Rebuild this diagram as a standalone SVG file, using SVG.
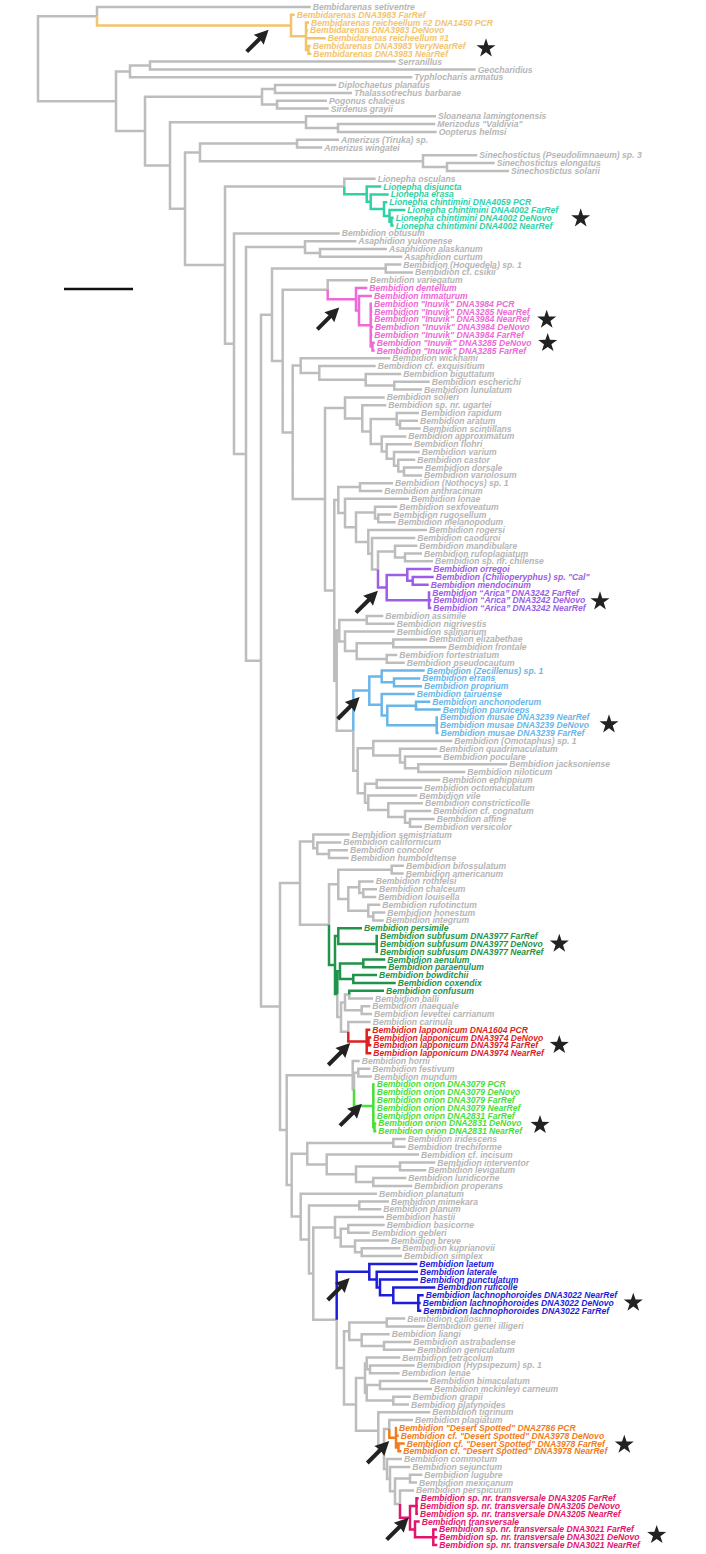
<svg xmlns="http://www.w3.org/2000/svg" xmlns:xlink="http://www.w3.org/1999/xlink" width="706" height="1554" viewBox="0 0 706 1554">
<style>
text{font-family:"Liberation Sans",Arial,sans-serif;font-size:8.6px;font-weight:bold;font-style:italic}
.g{fill:#b6b6b6}.yl{fill:#f3c46e}.tl{fill:#2fd1a5}.pk{fill:#ee6ad6}.pu{fill:#9d5de6}.lb{fill:#6bb6e8}.gn{fill:#1f944a}.rd{fill:#dd1f1f}.lm{fill:#4ade3a}.bl{fill:#1e1ed8}.or{fill:#f07d1e}.mg{fill:#e2166c}
path.br{fill:none;stroke-width:2.5;stroke-linejoin:miter}
.sg{stroke:#bdbdbd}.syl{stroke:#f3c46e}.stl{stroke:#2fd1a5}.spk{stroke:#ee6ad6}.spu{stroke:#9d5de6}.slb{stroke:#6bb6e8}.sgn{stroke:#1f944a}.srd{stroke:#dd1f1f}.slm{stroke:#4ade3a}.sbl{stroke:#1e1ed8}.sor{stroke:#f07d1e}.smg{stroke:#e2166c}
.mk{fill:#222}
</style>
<defs>
<path id="star" d="M0,-9 L2.29,-2.16 L9.51,-2.09 L3.71,2.21 L5.88,9.09 L0,4.9 L-5.88,9.09 L-3.71,2.21 L-9.51,-2.09 L-2.29,-2.16 Z"/>
<path id="arrow" d="M0,-2 L18,-2 L17,-7 L31,0 L17,7 L18,2 L0,2 Z"/>
</defs>
<rect width="706" height="1554" fill="#ffffff"/>
<g id="connectors">
<path class="br sg" d="M38,58.8V16.3H97 M38,58.8V101.3H116 M97,16.3V7H310.7 M116,101.3V71.4H130 M116,101.3V131.1H145 M130,71.4V65.6H150 M130,71.4V77.3H412.3 M150,65.6V61.6H395.7 M150,65.6V69.5H475.7 M145,131.1V96.8H262 M145,131.1V165.4H170 M262,96.8V89H275 M262,96.8V104.6H277 M275,89V85.1H336.3 M275,89V92.9H352 M277,104.6V100.7H327 M277,104.6V108.5H328.7 M170,165.4V122.2H306 M170,165.4V208.7H185 M306,122.2V116.3H436 M306,122.2V128H338 M338,128V124.1H435.3 M338,128V131.9H436.7 M185,208.7V152.4H200 M185,208.7V265.1H225 M200,152.4V143.6H297 M200,152.4V161.2H423 M297,143.6V139.7H339 M297,143.6V147.5H322.3 M423,161.2V155.3H477.3 M423,161.2V167H447 M447,167V163.1H494.7 M447,167V170.9H509 M225,265.1V186.5H344.3 M225,265.1V343.7H234 M344.3,186.5V178.8H375.7"/>
<path class="br sg" d="M234,343.7V233.4H339.7 M234,343.7V453.9H246 M246,453.9V247.1H305 M246,453.9V660.7H261 M305,247.1V241.2H356.3 M305,247.1V252.9H320 M320,252.9V249H387 M320,252.9V256.8H402.3 M261,660.7V314.8H272 M261,660.7V1006.6H280 M272,314.8V268.5H385.7 M272,314.8V361.1H282.7 M385.7,268.5V264.6H401.3 M385.7,268.5V272.4H413 M282.7,361.1V289.8H327.7 M282.7,361.1V432.4H292.7 M327.7,289.8V280.2H368 M292.7,432.4V365.6H300.7 M292.7,432.4V499.1H325 M300.7,365.6V358.3H390.3 M300.7,365.6V372.9H319.3 M319.3,372.9V366.1H375.7 M319.3,372.9V379.8H365.7 M365.7,379.8V373.9H401.3 M365.7,379.8V385.6H394.3 M394.3,385.6V381.7H429.7 M394.3,385.6V389.5H422 M325,499.1V407.9H345 M325,499.1V590.4H334.3 M345,407.9V397.4H384.7 M345,407.9V418.4H362.3 M362.3,418.4V405.2H386.3 M362.3,418.4V431.5H370.7 M370.7,431.5V418.9H396.7 M370.7,431.5V444H381.7 M396.7,418.9V413H419 M396.7,418.9V424.7H400 M400,424.7V420.8H418 M400,424.7V428.6H420.7 M381.7,444V436.4H406.3 M381.7,444V451.5H386.7 M386.7,451.5V444.2H412 M386.7,451.5V458.8H394 M394,458.8V452H419.7 M394,458.8V465.7H398.3 M398.3,465.7V459.8H415.3 M398.3,465.7V471.5H404 M404,471.5V467.6H423 M404,471.5V475.4H422"/>
<path class="br sg" d="M334.3,590.4V500.1H338.3 M334.3,590.4V680.7H336.7 M338.3,500.1V487.1H360 M338.3,500.1V513H345 M360,487.1V483.2H393 M360,487.1V491H382.3 M345,513V498.8H409 M345,513V527.2H356 M356,527.2V512.6H375 M356,527.2V541.9H368.3 M375,512.6V506.7H397.3 M375,512.6V518.4H378.3 M378.3,518.4V514.5H391.3 M378.3,518.4V522.3H395.7 M368.3,541.9V530.1H427 M368.3,541.9V553.8H372 M372,553.8V537.9H415.3 M372,553.8V569.6H378 M378,569.6V551.6H395 M395,551.6V545.7H417.3 M395,551.6V557.4H405 M405,557.4V553.5H422 M405,557.4V561.3H433 M336.7,680.7V630.6H339.3 M336.7,680.7V730.7H353.3 M339.3,630.6V619.9H366.7 M339.3,630.6V641.4H345 M366.7,619.9V616H383.3 M366.7,619.9V623.8H394.7 M345,641.4V631.6H394.7 M345,641.4V651.1H356.7 M356.7,651.1V643.3H393.3 M356.7,651.1V658.9H386.7 M393.3,643.3V639.4H427.3 M393.3,643.3V647.2H446.3 M386.7,658.9V655H397.3 M386.7,658.9V662.8H404.7 M353.3,730.7V770.8H357.7 M357.7,770.8V748.2H373.3 M357.7,770.8V793.3H365 M373.3,748.2V740.9H452.3 M373.3,748.2V755.5H400 M400,755.5V748.7H437.3 M400,755.5V762.4H405 M405,762.4V756.5H441.3 M405,762.4V768.2H418.3 M418.3,768.2V764.3H507.3 M418.3,768.2V772.1H465.3 M365,793.3V783.8H376.7 M365,793.3V802.8H368.3 M376.7,783.8V779.9H440.3 M376.7,783.8V787.7H422.3 M368.3,802.8V795.5H417.3 M368.3,802.8V810.1H388.3 M388.3,810.1V803.3H423 M388.3,810.1V817H405 M405,817V811.1H431.3 M405,817V822.8H410 M410,822.8V818.9H434.7 M410,822.8V826.7H422"/>
<path class="br sg" d="M280,1006.6V883H300 M280,1006.6V1130.1H286.7 M300,883V841.4H313.3 M300,883V924.7H329 M313.3,841.4V834.6H349.7 M313.3,841.4V848.3H317.3 M317.3,848.3V842.4H341.3 M317.3,848.3V854.1H329 M329,854.1V850.2H348 M329,854.1V858H348.7 M329,924.7V884.3H338.3 M338.3,884.3V869.7H391.7 M338.3,884.3V899H348.3 M391.7,869.7V865.8H404 M391.7,869.7V873.6H403.7 M348.3,899V887.3H359.3 M348.3,899V910.7H368.3 M359.3,887.3V881.4H373.7 M359.3,887.3V893.1H363.3 M363.3,893.1V889.2H377 M363.3,893.1V897H376.3 M368.3,910.7V904.8H380.3 M368.3,910.7V916.5H373.3 M373.3,916.5V912.6H385.3 M373.3,916.5V920.4H383.7 M337.3,994.1V1017H341 M341,1017V1002.4H345 M341,1017V1031.7H348.3 M345,1002.4V994.6H349.3 M345,1002.4V1010.2H361.7 M349.3,994.6V998.5H373 M361.7,1010.2V1006.3H370.3 M361.7,1010.2V1014.1H372 M348.3,1031.7V1021.9H370.7"/>
<path class="br sg" d="M286.7,1130.1V1075.2H352.7 M286.7,1130.1V1185.1H291.7 M352.7,1075.2V1061H359.7 M352.7,1075.2V1089.3H354 M354,1089.3V1072.7H358.3 M358.3,1072.7V1068.8H370.3 M358.3,1072.7V1076.6H372 M291.7,1185.1V1153.7H307.3 M291.7,1185.1V1216.6H300.7 M307.3,1153.7V1142.9H393.3 M307.3,1153.7V1164.4H326.7 M393.3,1142.9V1139H405.7 M393.3,1142.9V1146.8H405.7 M326.7,1164.4V1154.6H419 M326.7,1164.4V1174.2H356 M356,1174.2V1166.4H400 M356,1174.2V1182H373.3 M400,1166.4V1162.5H435.3 M400,1166.4V1170.3H426.3 M373.3,1182V1178.1H406.3 M373.3,1182V1185.9H412.3 M300.7,1216.6V1193.7H377 M300.7,1216.6V1239.5H309 M309,1239.5V1205.4H359.3 M309,1239.5V1273.6H313.3 M359.3,1205.4V1201.5H389 M359.3,1205.4V1209.3H381.3 M313.3,1273.6V1227.4H335 M313.3,1273.6V1319.8H336.7 M335,1227.4V1217.1H384 M335,1227.4V1237.6H340.7 M340.7,1237.6V1228.8H348.3 M340.7,1237.6V1246.4H355 M348.3,1228.8V1224.9H384.7 M348.3,1228.8V1232.7H369.7 M355,1246.4V1240.5H389 M355,1246.4V1252.2H361.7 M361.7,1252.2V1248.3H400.3 M361.7,1252.2V1256.1H402 M336.7,1319.8V1367.9H344"/>
<path class="br sg" d="M344,1367.9V1331.3H349.3 M344,1367.9V1404.4H356 M349.3,1331.3V1322.5H386.7 M349.3,1331.3V1340.1H361.7 M386.7,1322.5V1318.6H405.3 M386.7,1322.5V1326.4H424.7 M361.7,1340.1V1334.2H389.7 M361.7,1340.1V1345.9H384 M384,1345.9V1342H411.3 M384,1345.9V1349.8H415.3 M356,1404.4V1378.1H365 M356,1404.4V1430.7H378.3 M365,1378.1V1363.5H366.7 M365,1378.1V1392.8H366.7 M366.7,1363.5V1357.6H400.3 M366.7,1363.5V1369.3H370 M370,1369.3V1365.4H414.7 M370,1369.3V1373.2H399.7 M366.7,1392.8V1385H380 M366.7,1392.8V1400.6H393.3 M380,1385V1381.1H428 M380,1385V1388.9H432 M393.3,1400.6V1396.7H410.7 M393.3,1400.6V1404.5H409 M378.3,1430.7V1412.3H430.3 M378.3,1430.7V1449H384 M384,1449V1428.9H389.3 M384,1449V1469.1H387 M389.3,1428.9V1420.1H413 M387,1469.1V1459.1H402 M387,1469.1V1479.1H390 M390,1479.1V1466.9H410.3 M390,1479.1V1491.3H395 M395,1491.3V1478.6H410 M395,1491.3V1504.1H400 M410,1478.6V1474.7H422.3 M410,1478.6V1482.5H417 M400,1504.1V1490.4H414"/>
<path class="br syl" d="M97,16.3V25.5H291 M291,25.5V14.8H294.7 M291,25.5V36.3H306 M306,36.3V22.6H309 M306,36.3V30.4H308 M306,36.3V38.2H325.7 M306,36.3V49.9H308.5 M308.5,49.9V46H310.7 M308.5,49.9V53.8H311.3"/>
<path class="br stl" d="M344.3,186.5V194.2H366.7 M366.7,194.2V186.6H381.3 M366.7,194.2V201.7H370.7 M370.7,201.7V194.4H388.7 M370.7,201.7V209H384 M384,209V202.2H387.3 M384,209V215.9H389.5 M389.5,215.9V210H405.3 M389.5,215.9V221.7H391.5 M391.5,221.7V217.8H393.7 M391.5,221.7V225.6H393.7"/>
<path class="br spk" d="M327.7,289.8V299.3H356 M356,299.3V288.1H367.3 M356,299.3V310.5H359 M359,310.5V295.9H372 M359,310.5V325.2H370.7 M370.7,325.2V303.7H372 M370.7,325.2V311.5H372.3 M370.7,325.2V319.3H372.3 M370.7,325.2V327.1H373 M370.7,325.2V334.9H372.3 M370.7,325.2V346.6H372.5 M372.5,346.6V342.7H374.7 M372.5,346.6V350.5H374.7"/>
<path class="br spu" d="M378,569.6V587.6H386.7 M386.7,587.6V575H407.3 M386.7,587.6V600.3H429 M407.3,575V569.1H431.3 M407.3,575V580.8H412.7 M412.7,580.8V576.9H433.7 M412.7,580.8V584.7H428.7 M429,600.3V592.5H430.3 M429,600.3H431.3 M429,600.3V608.1H431.3"/>
<path class="br slb" d="M353.3,730.7V690.6H369.3 M369.3,690.6V676.5H381.7 M369.3,690.6V704.8H381.7 M381.7,676.5V670.6H424.7 M381.7,676.5V682.3H394 M394,682.3V678.4H420.3 M394,682.3V686.2H422 M381.7,704.8V694H414.7 M381.7,704.8V715.5H387.3 M387.3,715.5V705.7H416 M387.3,715.5V725.3H436.7 M416,705.7V701.8H430.3 M416,705.7V709.6H440.7 M436.7,725.3V717.4H438 M436.7,725.3H438 M436.7,725.3V733.1H438.7"/>
<path class="br sgn" d="M329,924.7V965H335 M335,965V936H338.3 M335,965V994.1H337.3 M338.3,936V928.2H362 M338.3,936V943.9H376.7 M376.7,943.9V936H378 M376.7,943.9H378 M376.7,943.9V951.7H378 M337.3,994.1V971.2H340 M340,971.2V963.4H363.3 M340,971.2V979H353.3 M363.3,963.4V959.5H385.3 M363.3,963.4V967.3H386.3 M353.3,979V975.1H377 M353.3,979V982.9H395.7 M349.3,994.6V990.7H384"/>
<path class="br srd" d="M348.3,1031.7V1041.5H366.7 M366.7,1041.5V1029.7H370.3 M366.7,1041.5H368.5 M366.7,1041.5V1053.2H371.3 M368.5,1041.4V1037.5H371.3 M368.5,1041.4V1045.3H371.3"/>
<path class="br slm" d="M354,1089.3V1105.9H373.3 M373.3,1105.9V1084.4H374.7 M373.3,1105.9V1092.2H374.7 M373.3,1105.9V1100H374.7 M373.3,1105.9V1107.8H374.7 M373.3,1105.9V1115.6H374.7 M373.3,1105.9V1127.3H374.5 M374.5,1127.3V1123.4H376.3 M374.5,1127.3V1131.2H376.3"/>
<path class="br sbl" d="M336.7,1319.8V1271.8H369.3 M369.3,1271.8V1263.9H417.3 M369.3,1271.8V1279.6H376.7 M376.7,1279.6V1271.8H418 M376.7,1279.6V1287.4H380 M380,1287.4V1279.6H418 M380,1287.4V1295.2H393.3 M393.3,1295.2V1287.4H435.3 M393.3,1295.2V1303H418.3 M418.3,1303V1295.2H423.7 M418.3,1303H420.7 M418.3,1303V1310.8H421.3"/>
<path class="br sor" d="M389.3,1428.9V1437.7H396 M396,1437.7V1427.9H397 M396,1437.7V1435.7H398.7 M396,1437.7V1447.4H398.5 M398.5,1447.4V1443.5H404.7 M398.5,1447.4V1451.3H401.3"/>
<path class="br smg" d="M400,1504.1V1517.7H410 M410,1517.7V1506H416.5 M410,1517.7V1529.4H415 M416.5,1506V1498.2H418.7 M416.5,1506H418 M416.5,1506V1513.8H418 M415,1529.4V1521.6H419.7 M415,1529.4V1537.2H433.3 M433.3,1537.2V1529.4H437 M433.3,1537.2H437.3 M433.3,1537.2V1545H437.3"/>
</g>
<g id="scalebar"><path d="M64,289H133" stroke="#111" stroke-width="2.5"/></g>
<g id="n1"><text class="g" x="312.7" y="10">Bembidarenas setiventre</text></g>
<g id="n2"><text class="yl" x="296.7" y="17.8">Bembidarenas DNA3983 FarRef</text></g>
<g id="n3"><text class="yl" x="311" y="25.6">Bembidarenas reicheellum #2 DNA1450 PCR</text></g>
<g id="n4"><text class="yl" x="310" y="33.4">Bembidarenas DNA3983 DeNovo</text></g>
<g id="n5"><text class="yl" x="327.7" y="41.2">Bembidarenas reicheellum #1</text></g>
<g id="n6"><text class="yl" x="312.7" y="49">Bembidarenas DNA3983 VeryNearRef</text></g>
<g id="n7"><text class="yl" x="313.3" y="56.8">Bembidarenas DNA3983 NearRef</text></g>
<g id="n8"><text class="g" x="397.7" y="64.6">Serranillus</text></g>
<g id="n9"><text class="g" x="477.7" y="72.5">Geocharidius</text></g>
<g id="n10"><text class="g" x="414.3" y="80.3">Typhlocharis armatus</text></g>
<g id="n11"><text class="g" x="338.3" y="88.1">Diplochaetus planatus</text></g>
<g id="n12"><text class="g" x="354" y="95.9">Thalassotrechus barbarae</text></g>
<g id="n13"><text class="g" x="329" y="103.7">Pogonus chalceus</text></g>
<g id="n14"><text class="g" x="330.7" y="111.5">Sirdenus grayii</text></g>
<g id="n15"><text class="g" x="438" y="119.3">Sloaneana lamingtonensis</text></g>
<g id="n16"><text class="g" x="437.3" y="127.1">Merizodus "Valdivia"</text></g>
<g id="n17"><text class="g" x="438.7" y="134.9">Oopterus helmsi</text></g>
<g id="n18"><text class="g" x="341" y="142.7">Amerizus (Tiruka) sp.</text></g>
<g id="n19"><text class="g" x="324.3" y="150.5">Amerizus wingatei</text></g>
<g id="n20"><text class="g" x="479.3" y="158.3">Sinechostictus (Pseudolimnaeum) sp. 3</text></g>
<g id="n21"><text class="g" x="496.7" y="166.1">Sinechostictus elongatus</text></g>
<g id="n22"><text class="g" x="511" y="173.9">Sinechostictus solarii</text></g>
<g id="n23"><text class="g" x="377.7" y="181.8">Lionepha osculans</text></g>
<g id="n24"><text class="tl" x="383.3" y="189.6">Lionepha disjuncta</text></g>
<g id="n25"><text class="tl" x="390.7" y="197.4">Lionepha erasa</text></g>
<g id="n26"><text class="tl" x="389.3" y="205.2">Lionepha chintimini DNA4059 PCR</text></g>
<g id="n27"><text class="tl" x="407.3" y="213">Lionepha chintimini DNA4002 FarRef</text></g>
<g id="n28"><text class="tl" x="395.7" y="220.8">Lionepha chintimini DNA4002 DeNovo</text></g>
<g id="n29"><text class="tl" x="395.7" y="228.6">Lionepha chintimini DNA4002 NearRef</text></g>
<g id="n30"><text class="g" x="341.7" y="236.4">Bembidion obtusum</text></g>
<g id="n31"><text class="g" x="358.3" y="244.2">Asaphidion yukonense</text></g>
<g id="n32"><text class="g" x="389" y="252">Asaphidion alaskanum</text></g>
<g id="n33"><text class="g" x="404.3" y="259.8">Asaphidion curtum</text></g>
<g id="n34"><text class="g" x="403.3" y="267.6">Bembidion (Hoquedela) sp. 1</text></g>
<g id="n35"><text class="g" x="415" y="275.4">Bembidion cf. csikii</text></g>
<g id="n36"><text class="g" x="370" y="283.2">Bembidion variegatum</text></g>
<g id="n37"><text class="pk" x="369.3" y="291.1">Bembidion dentellum</text></g>
<g id="n38"><text class="pk" x="374" y="298.9">Bembidion immaturum</text></g>
<g id="n39"><text class="pk" x="374" y="306.7">Bembidion "Inuvik" DNA3984 PCR</text></g>
<g id="n40"><text class="pk" x="374.3" y="314.5">Bembidion "Inuvik" DNA3285 NearRef</text></g>
<g id="n41"><text class="pk" x="374.3" y="322.3">Bembidion "Inuvik" DNA3984 NearRef</text></g>
<g id="n42"><text class="pk" x="375" y="330.1">Bembidion "Inuvik" DNA3984 DeNovo</text></g>
<g id="n43"><text class="pk" x="374.3" y="337.9">Bembidion "Inuvik" DNA3984 FarRef</text></g>
<g id="n44"><text class="pk" x="376.7" y="345.7">Bembidion "Inuvik" DNA3285 DeNovo</text></g>
<g id="n45"><text class="pk" x="376.7" y="353.5">Bembidion "Inuvik" DNA3285 FarRef</text></g>
<g id="n46"><text class="g" x="392.3" y="361.3">Bembidion wickhami</text></g>
<g id="n47"><text class="g" x="377.7" y="369.1">Bembidion cf. exquisitium</text></g>
<g id="n48"><text class="g" x="403.3" y="376.9">Bembidion biguttatum</text></g>
<g id="n49"><text class="g" x="431.7" y="384.7">Bembidion escherichi</text></g>
<g id="n50"><text class="g" x="424" y="392.5">Bembidion lunulatum</text></g>
<g id="n51"><text class="g" x="386.7" y="400.4">Bembidion solieri</text></g>
<g id="n52"><text class="g" x="388.3" y="408.2">Bembidion sp. nr. ugartei</text></g>
<g id="n53"><text class="g" x="421" y="416">Bembidion rapidum</text></g>
<g id="n54"><text class="g" x="420" y="423.8">Bembidion aratum</text></g>
<g id="n55"><text class="g" x="422.7" y="431.6">Bembidion scintillans</text></g>
<g id="n56"><text class="g" x="408.3" y="439.4">Bembidion approximatum</text></g>
<g id="n57"><text class="g" x="414" y="447.2">Bembidion flohri</text></g>
<g id="n58"><text class="g" x="421.7" y="455">Bembidion varium</text></g>
<g id="n59"><text class="g" x="417.3" y="462.8">Bembidion castor</text></g>
<g id="n60"><text class="g" x="425" y="470.6">Bembidion dorsale</text></g>
<g id="n61"><text class="g" x="424" y="478.4">Bembidion variolosum</text></g>
<g id="n62"><text class="g" x="395" y="486.2">Bembidion (Nothocys) sp. 1</text></g>
<g id="n63"><text class="g" x="384.3" y="494">Bembidion anthracinum</text></g>
<g id="n64"><text class="g" x="411" y="501.8">Bembidion lonae</text></g>
<g id="n65"><text class="g" x="399.3" y="509.7">Bembidion sexfoveatum</text></g>
<g id="n66"><text class="g" x="393.3" y="517.5">Bembidion rugosellum</text></g>
<g id="n67"><text class="g" x="397.7" y="525.3">Bembidion melanopodum</text></g>
<g id="n68"><text class="g" x="429" y="533.1">Bembidion rogersi</text></g>
<g id="n69"><text class="g" x="417.3" y="540.9">Bembidion caoduroi</text></g>
<g id="n70"><text class="g" x="419.3" y="548.7">Bembidion mandibulare</text></g>
<g id="n71"><text class="g" x="424" y="556.5">Bembidion rufoplagiatum</text></g>
<g id="n72"><text class="g" x="435" y="564.3">Bembidion sp. nr. chilense</text></g>
<g id="n73"><text class="pu" x="433.3" y="572.1">Bembidion orregoi</text></g>
<g id="n74"><text class="pu" x="435.7" y="579.9">Bembidion (Chilioperyphus) sp. "Cal"</text></g>
<g id="n75"><text class="pu" x="430.7" y="587.7">Bembidion mendocinum</text></g>
<g id="n76"><text class="pu" x="432.3" y="595.5">Bembidion “Arica” DNA3242 FarRef</text></g>
<g id="n77"><text class="pu" x="433.3" y="603.3">Bembidion “Arica” DNA3242 DeNovo</text></g>
<g id="n78"><text class="pu" x="433.3" y="611.1">Bembidion “Arica” DNA3242 NearRef</text></g>
<g id="n79"><text class="g" x="385.3" y="619">Bembidion assimile</text></g>
<g id="n80"><text class="g" x="396.7" y="626.8">Bembidion nigrivestis</text></g>
<g id="n81"><text class="g" x="396.7" y="634.6">Bembidion salinarium</text></g>
<g id="n82"><text class="g" x="429.3" y="642.4">Bembidion elizabethae</text></g>
<g id="n83"><text class="g" x="448.3" y="650.2">Bembidion frontale</text></g>
<g id="n84"><text class="g" x="399.3" y="658">Bembidion fortestriatum</text></g>
<g id="n85"><text class="g" x="406.7" y="665.8">Bembidion pseudocautum</text></g>
<g id="n86"><text class="lb" x="426.7" y="673.6">Bembidion (Zecillenus) sp. 1</text></g>
<g id="n87"><text class="lb" x="422.3" y="681.4">Bembidion errans</text></g>
<g id="n88"><text class="lb" x="424" y="689.2">Bembidion proprium</text></g>
<g id="n89"><text class="lb" x="416.7" y="697">Bembidion tairuense</text></g>
<g id="n90"><text class="lb" x="432.3" y="704.8">Bembidion anchonoderum</text></g>
<g id="n91"><text class="lb" x="442.7" y="712.6">Bembidion parviceps</text></g>
<g id="n92"><text class="lb" x="440" y="720.4">Bembidion musae DNA3239 NearRef</text></g>
<g id="n93"><text class="lb" x="440" y="728.3">Bembidion musae DNA3239 DeNovo</text></g>
<g id="n94"><text class="lb" x="440.7" y="736.1">Bembidion musae DNA3239 FarRef</text></g>
<g id="n95"><text class="g" x="454.3" y="743.9">Bembidion (Omotaphus) sp. 1</text></g>
<g id="n96"><text class="g" x="439.3" y="751.7">Bembidion quadrimaculatum</text></g>
<g id="n97"><text class="g" x="443.3" y="759.5">Bembidion poculare</text></g>
<g id="n98"><text class="g" x="509.3" y="767.3">Bembidion jacksoniense</text></g>
<g id="n99"><text class="g" x="467.3" y="775.1">Bembidion niloticum</text></g>
<g id="n100"><text class="g" x="442.3" y="782.9">Bembidion ephippium</text></g>
<g id="n101"><text class="g" x="424.3" y="790.7">Bembidion octomaculatum</text></g>
<g id="n102"><text class="g" x="419.3" y="798.5">Bembidion vile</text></g>
<g id="n103"><text class="g" x="425" y="806.3">Bembidion constricticolle</text></g>
<g id="n104"><text class="g" x="433.3" y="814.1">Bembidion cf. cognatum</text></g>
<g id="n105"><text class="g" x="436.7" y="821.9">Bembidion affine</text></g>
<g id="n106"><text class="g" x="424" y="829.7">Bembidion versicolor</text></g>
<g id="n107"><text class="g" x="351.7" y="837.6">Bembidion semistriatum</text></g>
<g id="n108"><text class="g" x="343.3" y="845.4">Bembidion californicum</text></g>
<g id="n109"><text class="g" x="350" y="853.2">Bembidion concolor</text></g>
<g id="n110"><text class="g" x="350.7" y="861">Bembidion humboldtense</text></g>
<g id="n111"><text class="g" x="406" y="868.8">Bembidion bifossulatum</text></g>
<g id="n112"><text class="g" x="405.7" y="876.6">Bembidion americanum</text></g>
<g id="n113"><text class="g" x="375.7" y="884.4">Bembidion rothfelsi</text></g>
<g id="n114"><text class="g" x="379" y="892.2">Bembidion chalceum</text></g>
<g id="n115"><text class="g" x="378.3" y="900">Bembidion louisella</text></g>
<g id="n116"><text class="g" x="382.3" y="907.8">Bembidion rufotinctum</text></g>
<g id="n117"><text class="g" x="387.3" y="915.6">Bembidion honestum</text></g>
<g id="n118"><text class="g" x="385.7" y="923.4">Bembidion integrum</text></g>
<g id="n119"><text class="gn" x="364" y="931.2">Bembidion persimile</text></g>
<g id="n120"><text class="gn" x="380" y="939">Bembidion subfusum DNA3977 FarRef</text></g>
<g id="n121"><text class="gn" x="380" y="946.9">Bembidion subfusum DNA3977 DeNovo</text></g>
<g id="n122"><text class="gn" x="380" y="954.7">Bembidion subfusum DNA3977 NearRef</text></g>
<g id="n123"><text class="gn" x="387.3" y="962.5">Bembidion aenulum</text></g>
<g id="n124"><text class="gn" x="388.3" y="970.3">Bembidion paraenulum</text></g>
<g id="n125"><text class="gn" x="379" y="978.1">Bembidion bowditchii</text></g>
<g id="n126"><text class="gn" x="397.7" y="985.9">Bembidion coxendix</text></g>
<g id="n127"><text class="gn" x="386" y="993.7">Bembidion confusum</text></g>
<g id="n128"><text class="g" x="375" y="1001.5">Bembidion balli</text></g>
<g id="n129"><text class="g" x="372.3" y="1009.3">Bembidion inaequale</text></g>
<g id="n130"><text class="g" x="374" y="1017.1">Bembidion levettei carrianum</text></g>
<g id="n131"><text class="g" x="372.7" y="1024.9">Bembidion carinula</text></g>
<g id="n132"><text class="rd" x="372.3" y="1032.7">Bembidion lapponicum DNA1604 PCR</text></g>
<g id="n133"><text class="rd" x="373.3" y="1040.5">Bembidion lapponicum DNA3974 DeNovo</text></g>
<g id="n134"><text class="rd" x="373.3" y="1048.3">Bembidion lapponicum DNA3974 FarRef</text></g>
<g id="n135"><text class="rd" x="373.3" y="1056.2">Bembidion lapponicum DNA3974 NearRef</text></g>
<g id="n136"><text class="g" x="361.7" y="1064">Bembidion horni</text></g>
<g id="n137"><text class="g" x="372.3" y="1071.8">Bembidion festivum</text></g>
<g id="n138"><text class="g" x="374" y="1079.6">Bembidion mundum</text></g>
<g id="n139"><text class="lm" x="376.7" y="1087.4">Bembidion orion DNA3079 PCR</text></g>
<g id="n140"><text class="lm" x="376.7" y="1095.2">Bembidion orion DNA3079 DeNovo</text></g>
<g id="n141"><text class="lm" x="376.7" y="1103">Bembidion orion DNA3079 FarRef</text></g>
<g id="n142"><text class="lm" x="376.7" y="1110.8">Bembidion orion DNA3079 NearRef</text></g>
<g id="n143"><text class="lm" x="376.7" y="1118.6">Bembidion orion DNA2831 FarRef</text></g>
<g id="n144"><text class="lm" x="378.3" y="1126.4">Bembidion orion DNA2831 DeNovo</text></g>
<g id="n145"><text class="lm" x="378.3" y="1134.2">Bembidion orion DNA2831 NearRef</text></g>
<g id="n146"><text class="g" x="407.7" y="1142">Bembidion iridescens</text></g>
<g id="n147"><text class="g" x="407.7" y="1149.8">Bembidion trechiforme</text></g>
<g id="n148"><text class="g" x="421" y="1157.6">Bembidion cf. incisum</text></g>
<g id="n149"><text class="g" x="437.3" y="1165.5">Bembidion interventor</text></g>
<g id="n150"><text class="g" x="428.3" y="1173.3">Bembidion levigatum</text></g>
<g id="n151"><text class="g" x="408.3" y="1181.1">Bembidion luridicorne</text></g>
<g id="n152"><text class="g" x="414.3" y="1188.9">Bembidion properans</text></g>
<g id="n153"><text class="g" x="379" y="1196.7">Bembidion planatum</text></g>
<g id="n154"><text class="g" x="391" y="1204.5">Bembidion mimekara</text></g>
<g id="n155"><text class="g" x="383.3" y="1212.3">Bembidion planum</text></g>
<g id="n156"><text class="g" x="386" y="1220.1">Bembidion hastii</text></g>
<g id="n157"><text class="g" x="386.7" y="1227.9">Bembidion basicorne</text></g>
<g id="n158"><text class="g" x="371.7" y="1235.7">Bembidion gebleri</text></g>
<g id="n159"><text class="g" x="391" y="1243.5">Bembidion breve</text></g>
<g id="n160"><text class="g" x="402.3" y="1251.3">Bembidion kuprianovii</text></g>
<g id="n161"><text class="g" x="404" y="1259.1">Bembidion simplex</text></g>
<g id="n162"><text class="bl" x="419.3" y="1266.9">Bembidion laetum</text></g>
<g id="n163"><text class="bl" x="420" y="1274.8">Bembidion laterale</text></g>
<g id="n164"><text class="bl" x="420" y="1282.6">Bembidion punctulatum</text></g>
<g id="n165"><text class="bl" x="437.3" y="1290.4">Bembidion ruficolle</text></g>
<g id="n166"><text class="bl" x="425.7" y="1298.2">Bembidion lachnophoroides DNA3022 NearRef</text></g>
<g id="n167"><text class="bl" x="422.7" y="1306">Bembidion lachnophoroides DNA3022 DeNovo</text></g>
<g id="n168"><text class="bl" x="423.3" y="1313.8">Bembidion lachnophoroides DNA3022 FarRef</text></g>
<g id="n169"><text class="g" x="407.3" y="1321.6">Bembidion callosum</text></g>
<g id="n170"><text class="g" x="426.7" y="1329.4">Bembidion genei illigeri</text></g>
<g id="n171"><text class="g" x="391.7" y="1337.2">Bembidion liangi</text></g>
<g id="n172"><text class="g" x="413.3" y="1345">Bembidion astrabadense</text></g>
<g id="n173"><text class="g" x="417.3" y="1352.8">Bembidion geniculatum</text></g>
<g id="n174"><text class="g" x="402.3" y="1360.6">Bembidion tetracolum</text></g>
<g id="n175"><text class="g" x="416.7" y="1368.4">Bembidion (Hypsipezum) sp. 1</text></g>
<g id="n176"><text class="g" x="401.7" y="1376.2">Bembidion lenae</text></g>
<g id="n177"><text class="g" x="430" y="1384.1">Bembidion bimaculatum</text></g>
<g id="n178"><text class="g" x="434" y="1391.9">Bembidion mckinleyi carneum</text></g>
<g id="n179"><text class="g" x="412.7" y="1399.7">Bembidion grapii</text></g>
<g id="n180"><text class="g" x="411" y="1407.5">Bembidion platynoides</text></g>
<g id="n181"><text class="g" x="432.3" y="1415.3">Bembidion tigrinum</text></g>
<g id="n182"><text class="g" x="415" y="1423.1">Bembidion plagiatum</text></g>
<g id="n183"><text class="or" x="399" y="1430.9">Bembidion "Desert Spotted" DNA2786 PCR</text></g>
<g id="n184"><text class="or" x="400.7" y="1438.7">Bembidion cf. "Desert Spotted" DNA3978 DeNovo</text></g>
<g id="n185"><text class="or" x="406.7" y="1446.5">Bembidion cf. "Desert Spotted" DNA3978 FarRef</text></g>
<g id="n186"><text class="or" x="403.3" y="1454.3">Bembidion cf. "Desert Spotted" DNA3978 NearRef</text></g>
<g id="n187"><text class="g" x="404" y="1462.1">Bembidion commotum</text></g>
<g id="n188"><text class="g" x="412.3" y="1469.9">Bembidion sejunctum</text></g>
<g id="n189"><text class="g" x="424.3" y="1477.7">Bembidion lugubre</text></g>
<g id="n190"><text class="g" x="419" y="1485.5">Bembidion mexicanum</text></g>
<g id="n191"><text class="g" x="416" y="1493.4">Bembidion perspicuum</text></g>
<g id="n192"><text class="mg" x="420.7" y="1501.2">Bembidion sp. nr. transversale DNA3205 FarRef</text></g>
<g id="n193"><text class="mg" x="420" y="1509">Bembidion sp. nr. transversale DNA3205 DeNovo</text></g>
<g id="n194"><text class="mg" x="420" y="1516.8">Bembidion sp. nr. transversale DNA3205 NearRef</text></g>
<g id="n195"><text class="mg" x="421.7" y="1524.6">Bembidion transversale</text></g>
<g id="n196"><text class="mg" x="439" y="1532.4">Bembidion sp. nr. transversale DNA3021 FarRef</text></g>
<g id="n197"><text class="mg" x="439.3" y="1540.2">Bembidion sp. nr. transversale DNA3021 DeNovo</text></g>
<g id="n198"><text class="mg" x="439.3" y="1548">Bembidion sp. nr. transversale DNA3021 NearRef</text></g>
<g id="stars" class="mk">
<use href="#star" x="486" y="47.3"/>
<use href="#star" x="580.7" y="217.3"/>
<use href="#star" x="546.7" y="318.7"/>
<use href="#star" x="547.7" y="342"/>
<use href="#star" x="600" y="600.3"/>
<use href="#star" x="609" y="723.3"/>
<use href="#star" x="559.3" y="942.7"/>
<use href="#star" x="559.3" y="1044"/>
<use href="#star" x="540" y="1124"/>
<use href="#star" x="633.3" y="1301.7"/>
<use href="#star" x="624.3" y="1443.7"/>
<use href="#star" x="656.7" y="1534"/>
</g>
<g id="arrows" class="mk">
<use href="#arrow" transform="translate(246.7,51.7) rotate(-45)"/>
<use href="#arrow" transform="translate(317.3,329.3) rotate(-45)"/>
<use href="#arrow" transform="translate(356,612.7) rotate(-45)"/>
<use href="#arrow" transform="translate(337.7,719) rotate(-45)"/>
<use href="#arrow" transform="translate(328.3,1065) rotate(-45)"/>
<use href="#arrow" transform="translate(340,1125.7) rotate(-45)"/>
<use href="#arrow" transform="translate(327.7,1300) rotate(-45)"/>
<use href="#arrow" transform="translate(367.3,1463) rotate(-45)"/>
<use href="#arrow" transform="translate(386.7,1539.7) rotate(-45)"/>
</g>
</svg>
